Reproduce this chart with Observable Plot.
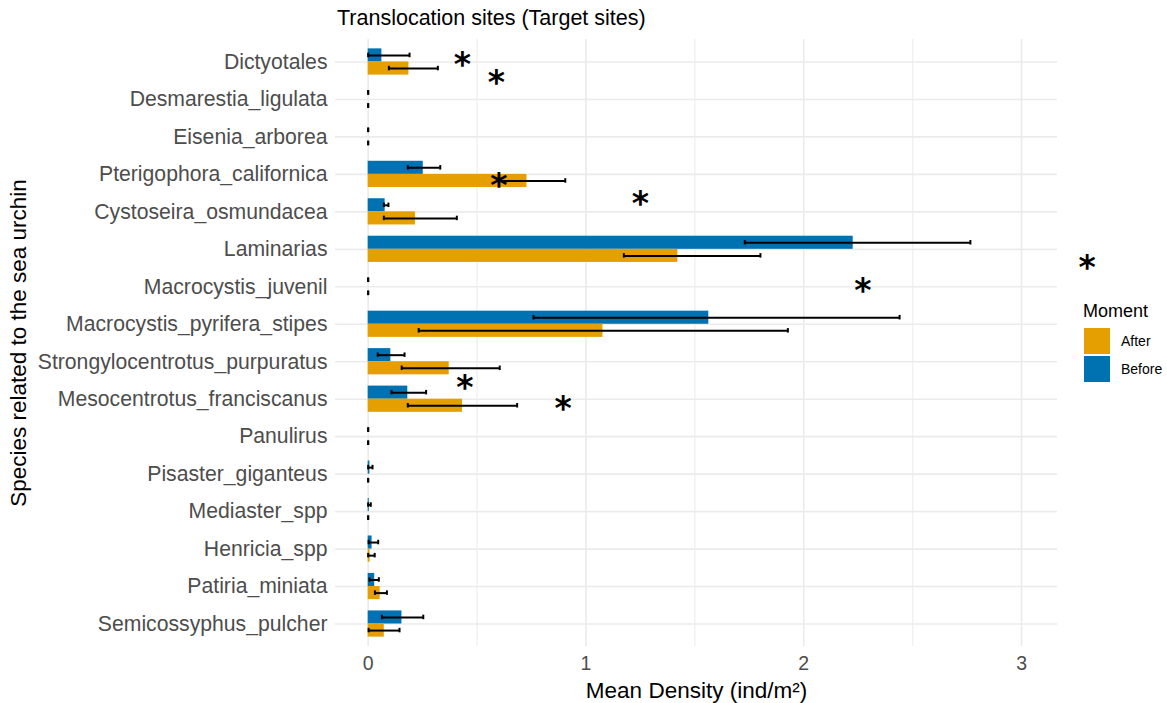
<!DOCTYPE html>
<html><head><meta charset="utf-8">
<script src="https://cdn.jsdelivr.net/npm/d3@7"></script>
<script src="https://cdn.jsdelivr.net/npm/@observablehq/plot@0.6"></script>
<style>
body{margin:0;background:#fff;font-family:"Liberation Sans",Arial,sans-serif;}
#wrap{position:relative;width:1167px;height:703px;overflow:hidden;}
#wrap svg{position:absolute;left:0;top:0;}
.t{position:absolute;line-height:1;white-space:nowrap;color:#000;}
.sw{position:absolute;width:26px;height:26px;}
</style>
</head><body>
<div id="wrap">
  <div id="chart"></div>
  <div class="t" style="left:337px;top:8px;font-size:21.5px;">Translocation sites (Target sites)</div>
  <div class="t" style="left:1083px;top:302px;font-size:18px;">Moment</div>
  <div class="sw" style="left:1084px;top:328px;background:#E69F00;"></div>
  <div class="sw" style="left:1084px;top:356px;background:#0072B2;"></div>
  <div class="t" style="left:1121px;top:334px;font-size:14px;">After</div>
  <div class="t" style="left:1121px;top:362px;font-size:14px;">Before</div>
</div>
<script>
const categories = ["Dictyotales","Desmarestia_ligulata","Eisenia_arborea","Pterigophora_californica","Cystoseira_osmundacea","Laminarias","Macrocystis_juvenil","Macrocystis_pyrifera_stipes","Strongylocentrotus_purpuratus","Mesocentrotus_franciscanus","Panulirus","Pisaster_giganteus","Mediaster_spp","Henricia_spp","Patiria_miniata","Semicossyphus_pulcher"];
const moments = ["After","Before"];
const beforeMean = [0.063,0,0,0.253,0.078,2.227,0,1.564,0.104,0.182,0,0.008,0.005,0.018,0.030,0.155];
const beforeLow  = [0,0,0,0.182,0.072,1.729,0,0.759,0.044,0.107,0,0,0,0.002,0.006,0.063];
const beforeHigh = [0.19,0,0,0.331,0.093,2.765,0,2.44,0.167,0.266,0,0.02,0.012,0.046,0.049,0.253];
const afterMean  = [0.187,0,0,0.729,0.217,1.422,0,1.078,0.372,0.433,0,0,0,0.009,0.055,0.074];
const afterLow   = [0.095,0,0,0.599,0.072,1.174,0,0.232,0.154,0.182,0,0,0,0,0.031,0.002];
const afterHigh  = [0.32,0,0,0.905,0.407,1.801,0,1.927,0.604,0.684,0,0,0,0.03,0.086,0.144];
// significance asterisks: x in density units, y in category-index units (16 = top row)
const starX = [0.432,0.589,0.600,1.250,3.301,2.271,0.444,0.895];
const starY = [16.06,15.6,12.84,12.35,10.66,10.04,7.45,6.89];
const xTicks = [0,1,2,3];
const xMinor = [0.5,1.5,2.5];

const n = categories.length;
const idx = categories.map((c,i)=>n-i);
const half = 0.35;
const rows = [];
categories.forEach((c,i)=>{
  rows.push({cat:c,y:n-i,moment:"Before",mean:beforeMean[i],lo:beforeLow[i],hi:beforeHigh[i],side:1});
  rows.push({cat:c,y:n-i,moment:"After",mean:afterMean[i],lo:afterLow[i],hi:afterHigh[i],side:-1});
});
const center = r => r.y + r.side*half/2;
const stars = starX.map((x,i)=>({x, y:starY[i], s:"*"}));
const wh = 0.06;

const chart = Plot.plot({
  width:1167, height:703,
  marginTop:39, marginBottom:57, marginLeft:335, marginRight:110,
  style:{fontFamily:"'Liberation Sans', Arial, sans-serif", color:"#4d4d4d", background:"transparent"},
  x:{domain:[-0.150,3.165], label:null},
  y:{domain:[0.4,16.6], label:null},
  color:{domain:moments, range:["#E69F00","#0072B2"]},
  marks:[
    Plot.ruleX(xMinor,{stroke:"#EEEEEE", strokeWidth:1.2}),
    Plot.ruleX(xTicks,{stroke:"#EBEBEB", strokeWidth:1.6}),
    Plot.ruleY(idx,{stroke:"#EBEBEB", strokeWidth:1.6}),
    Plot.axisX({ticks:xTicks, tickSize:0, tickPadding:10, fontSize:19.5, label:null, tickFormat:d=>String(d)}),
    Plot.axisY({ticks:idx, tickFormat:d=>categories[n-d], tickSize:0, tickPadding:8, fontSize:21.2, label:null}),
    Plot.rect(rows,{x1:()=>0, x2:"mean", y1:r=>r.side>0?r.y:r.y-half, y2:r=>r.side>0?r.y+half:r.y, fill:"moment"}),
    Plot.ruleY(rows,{x1:"lo", x2:"hi", y:center, stroke:"black", strokeWidth:2}),
    Plot.ruleX(rows,{x:"lo", y1:r=>center(r)-wh, y2:r=>center(r)+wh, stroke:"black", strokeWidth:2}),
    Plot.ruleX(rows,{x:"hi", y1:r=>center(r)-wh, y2:r=>center(r)+wh, stroke:"black", strokeWidth:2}),
    Plot.text(stars,{x:"x", y:"y", text:"s", fontSize:33, fontWeight:"bold", fill:"black", dy:6, fontFamily:"'DejaVu Sans'"}),
    Plot.text(["Mean Density (ind/m²)"],{frameAnchor:"bottom", lineAnchor:"middle", textAnchor:"middle", dy:44, fontSize:22.5, fill:"black"}),
    Plot.text(["Species related to the sea urchin"],{frameAnchor:"left", textAnchor:"middle", lineAnchor:"middle", dx:-317, rotate:-90, fontSize:22.5, fill:"black"})
  ]
});
document.getElementById("chart").appendChild(chart);
</script>
</body></html>
